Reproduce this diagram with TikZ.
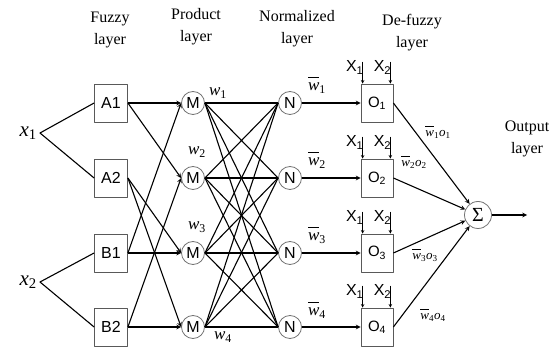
\documentclass[tikz,border=0pt]{standalone}
\usepackage{fontspec}
\setmainfont{Liberation Serif}
\newfontfamily\arialfont{Liberation Sans}
\newcommand{\wi}{\textit{w}}
\newcommand{\wbar}{$\overline{\vphantom{l}\hbox{\wi}}$}
\begin{document}
\begin{tikzpicture}[x=1pt,y=-1pt,>=stealth,line join=round,
    box/.style={draw=black!65,line width=0.8pt,minimum width=33pt,minimum height=38pt,inner sep=0pt,font=\arialfont\fontsize{16}{16}\selectfont},
    obox/.style={box,minimum width=32pt,font=\arialfont\fontsize{15}{15}\selectfont},
    neuron/.style={circle,draw=black!55,line width=0.8pt,minimum size=23pt,inner sep=0pt,font=\arialfont\fontsize{16}{16}\selectfont},
    title/.style={align=center,font=\fontsize{16}{22}\selectfont},
    wlab/.style={font=\fontsize{17}{17}\selectfont},
    olab/.style={font=\fontsize{13}{13}\selectfont},
    xlab/.style={inner sep=0pt,font=\arialfont\fontsize{16}{16}\selectfont},
    link/.style={line width=1.1pt}]
  \useasboundingbox (0,0) rectangle (549,347);
  % layer titles
  \node[title] (tfuz) at (110,30) {Fuzzy\\layer};
  \node[title] (tpro) at (196,27) {Product\\layer};
  \node[title] (tnor) at (297,29) {Normalized\\layer};
  \node[title] (tdef) at (412,33) {De-fuzzy\\layer};
  \node[title] (tout) at (527,139) {Output\\layer};
  % inputs
  \node[anchor=east,inner sep=3pt,font=\fontsize{21}{21}\selectfont] (x1) at (40,133) {\textit{x}\textsubscript{1}};
  \node[anchor=east,inner sep=3pt,font=\fontsize{21}{21}\selectfont] (x2) at (40,282) {\textit{x}\textsubscript{2}};
  \foreach \n/\y in {A1/103,A2/178,B1/253,B2/327}
    \node[box] (\n) at (111,\y) {\n};
  \foreach \i/\y in {1/103,2/178,3/253,4/327} {
    \node[neuron] (M\i) at (193,\y) {M};
    \node[neuron] (N\i) at (290,\y) {N};
    \node[obox] (O\i) at (377,\y) {O\textsubscript{\i}};
  }
  \node[circle,draw=black!55,line width=0.8pt,minimum size=27pt,inner sep=0pt,font=\fontsize{20}{20}\selectfont] (S) at (478,215) {Σ};
  \coordinate (out) at (527,215);
  % connectors
  \draw[link] (A1.west) -- (x1.east) -- (A2.west);
  \draw[link] (B1.west) -- (x2.east) -- (B2.west);
  \foreach \a/\m in {A1/M1,A1/M2,A2/M3,A2/M4,B1/M1,B1/M3,B2/M2,B2/M4}
    \draw[link,->] (\a.east) -- (\m.west);
  \foreach \i in {1,...,4}
    \foreach \j in {1,...,4}
      \draw[link] (M\i.east) -- (N\j.west);
  \foreach \i in {1,...,4} {
    \draw[link,->] (N\i) -- (O\i);
    \draw[link,->] (O\i.east) -- (S);
    \draw[line width=0.6pt,->] ([xshift=2pt,yshift=22pt]O\i.north west) -- ([xshift=2pt]O\i.north west);
    \draw[line width=0.6pt,->] ([xshift=-3pt,yshift=22pt]O\i.north east) -- ([xshift=-3pt]O\i.north east);
    \node[xlab,anchor=east] at ([xshift=3pt,yshift=16pt]O\i.north west) {X\textsubscript{1}};
    \node[xlab,anchor=east] at ([xshift=-2pt,yshift=16pt]O\i.north east) {X\textsubscript{2}};
  }
  \draw[link,->] (S) -- (out);
  % weights
  \node[wlab] at (218,93) {\wi\textsubscript{1}};
  \node[wlab] at (197,152) {\wi\textsubscript{2}};
  \node[wlab] at (197,227) {\wi\textsubscript{3}};
  \node[wlab] at (223,337) {\wi\textsubscript{4}};
  \foreach \i/\y in {1/85,2/160,3/235,4/310}
    \node[wlab] at (317,\y) {\wbar\textsubscript{\i}};
  \node[olab] at (438,132) {\wbar\textsubscript{1}\textit{o}\textsubscript{1}};
  \node[olab] at (414,162) {\wbar\textsubscript{2}\textit{o}\textsubscript{2}};
  \node[olab] at (425,255) {\wbar\textsubscript{3}\textit{o}\textsubscript{3}};
  \node[olab] at (433,315) {\wbar\textsubscript{4}\textit{o}\textsubscript{4}};
\end{tikzpicture}
\end{document}
